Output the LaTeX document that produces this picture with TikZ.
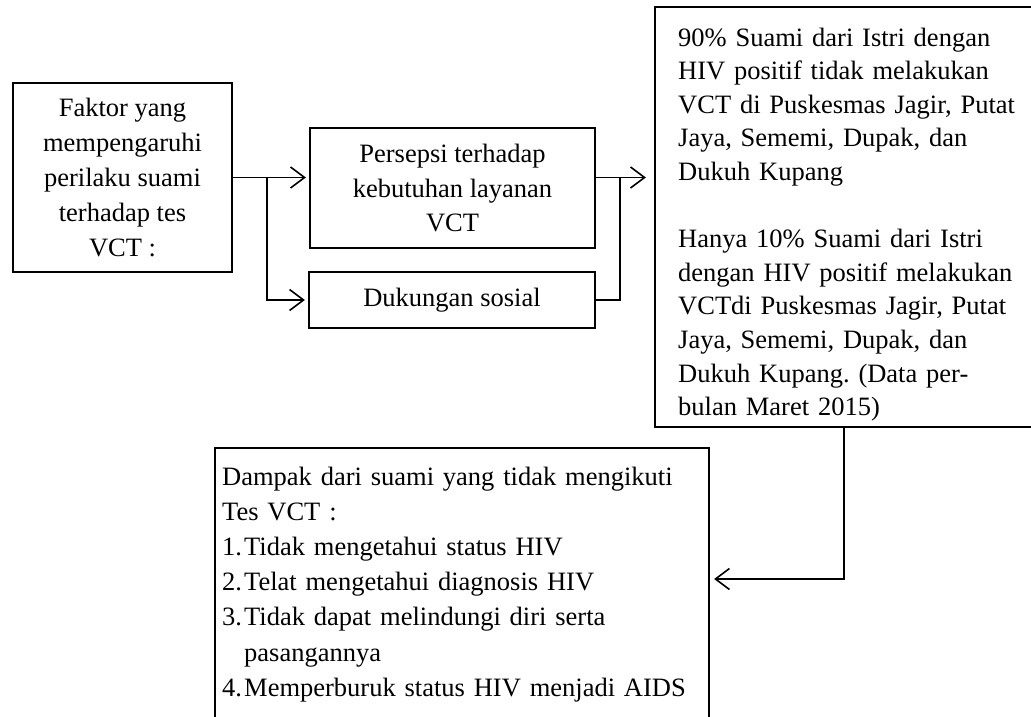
\documentclass[tikz,border=0pt]{standalone}
\usepackage{fontspec}
\setmainfont{Liberation Serif}
\usetikzlibrary{arrows.meta}
\frenchspacing
\begin{document}
\begin{tikzpicture}[x=1pt,y=-1pt,
  box/.style={draw, line width=2.2pt, inner sep=0pt, align=center, font=\fontsize{26.5}{34.8}\selectfont},
  txt/.style={inner sep=0pt, align=left, anchor=base west},
  conn/.style={line width=1.6pt},
  arr/.style={conn, -{Straight Barb[length=14pt,width=21pt]}}]
\clip (0,0) rectangle (1031,716);
\fill[white] (0,0) rectangle (1031,716);
\node[box, minimum width=219pt, minimum height=189pt] (b1) at (122.5,177.5) {Faktor yang\\mempengaruhi\\perilaku suami\\terhadap tes\\VCT :};
\node[box, minimum width=285pt, minimum height=120pt] (b2) at (452.5,188) {Persepsi terhadap\\kebutuhan layanan\\VCT};
\node[box, minimum width=286pt, minimum height=56pt] (b3) at (452,300) {Dukungan sosial};
\node[box, minimum width=390pt, minimum height=420pt] (b4) at (850,217) {};
\node[box, minimum width=494pt, minimum height=292pt] (b5) at (462,594) {};
\node[txt, text width=360pt, font=\fontsize{26.5}{33.6}\selectfont] (t4) at (678,46) {90\% Suami dari Istri dengan\\HIV positif tidak melakukan\\VCT di Puskesmas Jagir, Putat\\Jaya, Sememi, Dupak, dan\\Dukuh Kupang\\[33.6pt]Hanya 10\% Suami dari Istri\\dengan HIV positif melakukan\\VCTdi Puskesmas Jagir, Putat\\Jaya, Sememi, Dupak, dan\\Dukuh Kupang. (Data per-\\bulan Maret 2015)};
\node[txt, text width=480pt, font=\fontsize{26.5}{35.2}\selectfont] (t5) at (222,485) {Dampak dari suami yang tidak mengikuti\\Tes VCT :\\\makebox[22pt][l]{1.}Tidak mengetahui status HIV\\\makebox[22pt][l]{2.}Telat mengetahui diagnosis HIV\\\makebox[22pt][l]{3.}Tidak dapat melindungi diri serta\\\makebox[22pt][l]{}pasangannya\\\makebox[22pt][l]{4.}Memperburuk status HIV menjadi AIDS};
\coordinate (j1) at (267,177.5);
\coordinate (j2) at (620,177.5);
\coordinate (k) at (844,579);
\draw[arr, shorten >=3pt] (b1.east) -- (b2.west |- b1.east);
\draw[arr, shorten >=3pt] (j1) |- (b3.west);
\draw[arr, shorten >=8pt] (b2.east |- b1.east) -- (b4.west |- b1.east);
\draw[conn] (b3.east) -| (j2);
\draw[arr, shorten >=4pt] (b4.south -| k) |- (b5.east |- k);
\end{tikzpicture}
\end{document}
